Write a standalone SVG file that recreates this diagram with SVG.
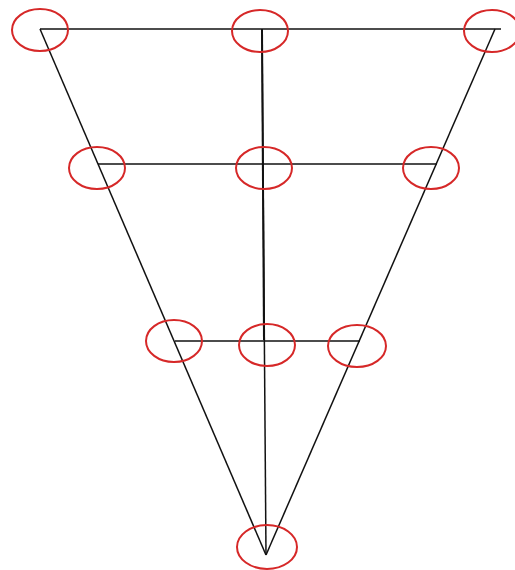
<svg xmlns="http://www.w3.org/2000/svg" width="515" height="570" viewBox="0 0 515 570">
<style>
.ln{stroke:#111;stroke-width:1.5;fill:none}
.nd{stroke:#d62828;stroke-width:2;fill:none}
</style>
<rect width="515" height="570" fill="#fff"/>
<g id="connectors">
<line class="ln" x1="40" y1="29" x2="501" y2="29"/>
<line class="ln" x1="40" y1="29" x2="266" y2="555"/>
<line class="ln" x1="495" y1="29" x2="266" y2="555"/>
<line class="ln" x1="262" y1="29" x2="266" y2="555"/>
<line class="ln" x1="262" y1="29" x2="264" y2="340" style="stroke-width:2"/>
<line class="ln" x1="98" y1="164" x2="437" y2="164"/>
<line class="ln" x1="175" y1="341" x2="360" y2="341"/>
</g>
<g id="n1"><ellipse class="nd" cx="40" cy="30" rx="28" ry="21"/></g>
<g id="n2"><ellipse class="nd" cx="260" cy="31" rx="28" ry="21"/></g>
<g id="n3"><ellipse class="nd" cx="492" cy="31" rx="28" ry="21"/></g>
<g id="n4"><ellipse class="nd" cx="97" cy="168" rx="28" ry="21"/></g>
<g id="n5"><ellipse class="nd" cx="264" cy="168" rx="28" ry="21"/></g>
<g id="n6"><ellipse class="nd" cx="431" cy="168" rx="28" ry="21"/></g>
<g id="n7"><ellipse class="nd" cx="174" cy="341" rx="28" ry="21"/></g>
<g id="n8"><ellipse class="nd" cx="267" cy="345" rx="28" ry="21"/></g>
<g id="n9"><ellipse class="nd" cx="357" cy="346" rx="29" ry="21"/></g>
<g id="n10"><ellipse class="nd" cx="267" cy="547" rx="30" ry="22"/></g>
</svg>
